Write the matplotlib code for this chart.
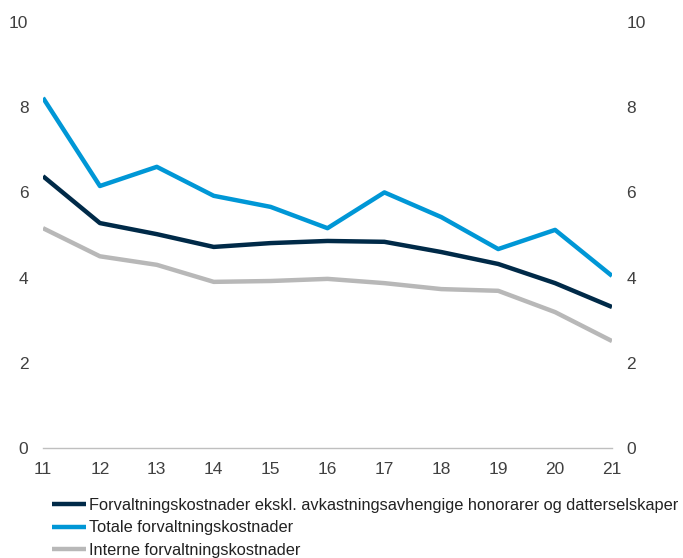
import matplotlib
matplotlib.use("Agg")
import matplotlib.pyplot as plt

years = [11, 12, 13, 14, 15, 16, 17, 18, 19, 20, 21]
year_labels = [str(y) for y in years]
eksl = [6.38, 5.28, 5.02, 4.72, 4.81, 4.86, 4.84, 4.60, 4.32, 3.87, 3.31]
totale = [8.22, 6.15, 6.60, 5.92, 5.66, 5.16, 6.00, 5.42, 4.67, 5.12, 4.04]
interne = [5.16, 4.50, 4.30, 3.90, 3.92, 3.97, 3.87, 3.73, 3.69, 3.19, 2.51]
names = ["Forvaltningskostnader ekskl. avkastningsavhengige honorarer og datterselskaper",
         "Totale forvaltningskostnader",
         "Interne forvaltningskostnader"]
yticks = [0, 2, 4, 6, 8, 10]

plt.rcParams['font.family'] = ['Liberation Sans', 'DejaVu Sans']

fig = plt.figure(figsize=(6.83, 5.58), dpi=100)
ax = fig.add_axes([43/683, 1-448/558, (612-43)/683, (448-22)/558])
c_dark, c_blue, c_grey = "#002A48", "#0097D6", "#B8B8B8"
l1, = ax.plot(years, eksl, color=c_dark, lw=3.2, solid_capstyle='butt', zorder=3)
l2, = ax.plot(years, totale, color=c_blue, lw=3.2, solid_capstyle='butt', zorder=4)
l3, = ax.plot(years, interne, color=c_grey, lw=3.2, solid_capstyle='butt', zorder=2)

ax.set_xlim(11, 21)
ax.set_ylim(0, 10)
ax.set_yticks(yticks)
ax.set_xticks(years)
ax.set_xticklabels(year_labels)
for s in ['top', 'right', 'left']:
    ax.spines[s].set_visible(False)
ax.spines['bottom'].set_color("#BFBFBF")
ax.spines['bottom'].set_linewidth(1)
ax.tick_params(axis='both', length=0, labelsize=12.5, colors="#404040")
ax.tick_params(axis='x', pad=10)
ax.tick_params(axis='y', pad=10.5)
ax.tick_params(axis='y', labelright=True, right=False)

fig.legend([l1, l2, l3], names, loc='upper left', bbox_to_anchor=(52/683, 1-498/558),
           frameon=False, fontsize=11.8, handlelength=2.1, handletextpad=0.18,
           labelspacing=0.45, borderaxespad=0, borderpad=0, labelcolor="#222222")
fig.savefig("out.png", dpi=100)
